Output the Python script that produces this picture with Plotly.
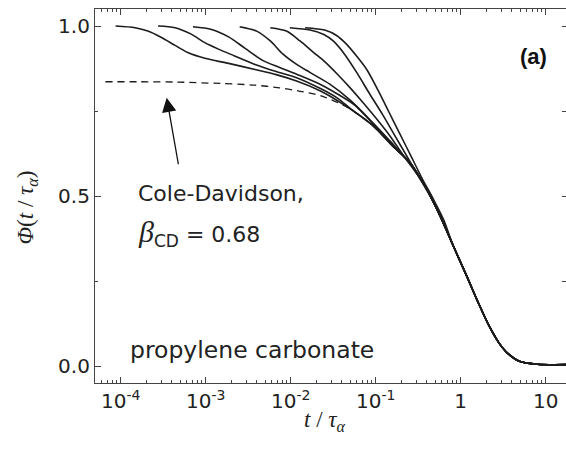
import plotly.graph_objects as go

# ---- data (log10 of t/tau_alpha, Phi) ----
master_logt = [-0.80, -0.60, -0.40, -0.24, -0.09, 0.07, 0.20, 0.33, 0.45, 0.55, 0.70, 0.90, 1.24]
master_phi = [0.647, 0.599, 0.520, 0.440, 0.355, 0.265, 0.190, 0.120, 0.068, 0.038, 0.013, 0.005, 0.004]

a_logt = [-4.06, -3.83, -3.68, -3.52, -3.36, -3.21, -3.01, -2.73, -2.42, -2.17, -1.93, -1.65, -1.54, -1.30, -1.03]
a_phi = [1.000, 0.995, 0.985, 0.966, 0.943, 0.922, 0.905, 0.890, 0.872, 0.857, 0.838, 0.809, 0.794, 0.756, 0.706]

b_logt = [-3.56, -3.36, -3.17, -3.01, -2.85, -2.66, -2.42, -2.17, -1.93, -1.65, -1.45, -1.30, -1.03]
b_phi = [1.000, 0.995, 0.976, 0.951, 0.932, 0.912, 0.887, 0.866, 0.848, 0.816, 0.788, 0.758, 0.707]

c_logt = [-3.15, -2.93, -2.73, -2.54, -2.33, -2.13, -1.93, -1.65, -1.45, -1.25, -1.03]
c_phi = [0.998, 0.990, 0.968, 0.935, 0.899, 0.878, 0.858, 0.828, 0.800, 0.768, 0.712]

d_logt = [-2.60, -2.40, -2.24, -2.09, -1.93, -1.77, -1.54, -1.30, -1.05, -0.85, -0.65]
d_phi = [0.998, 0.985, 0.956, 0.917, 0.887, 0.863, 0.829, 0.782, 0.720, 0.667, 0.610]

e_logt = [-2.24, -2.05, -1.89, -1.73, -1.60, -1.45, -1.30, -1.15, -0.99, -0.83, -0.66]
e_phi = [0.995, 0.985, 0.956, 0.922, 0.895, 0.858, 0.818, 0.775, 0.727, 0.676, 0.615]

f_logt = [-2.01, -1.77, -1.61, -1.50, -1.36, -1.22, -1.07, -0.92, -0.78, -0.64, -0.50, -0.36, -0.24]
f_phi = [0.995, 0.988, 0.975, 0.956, 0.915, 0.862, 0.800, 0.740, 0.680, 0.620, 0.560, 0.500, 0.445]

g_logt = [-1.83, -1.60, -1.46, -1.35, -1.22, -1.10, -0.97, -0.85, -0.72, -0.58, -0.45, -0.32, -0.20]
g_phi = [0.995, 0.988, 0.972, 0.948, 0.910, 0.870, 0.810, 0.750, 0.685, 0.615, 0.550, 0.490, 0.430]

cd_logt = [-4.18, -3.77, -3.33, -2.83, -2.42, -2.13, -1.89, -1.65, -1.34, -1.03]
cd_phi = [0.836, 0.836, 0.835, 0.831, 0.826, 0.818, 0.808, 0.795, 0.762, 0.706]

x_tickvals = [1e-4, 1e-3, 1e-2, 1e-1, 1, 10]
x_ticktext = ["10<sup>-4</sup>", "10<sup>-3</sup>", "10<sup>-2</sup>", "10<sup>-1</sup>", "1", "10"]
y_tickvals = [0.0, 0.5, 1.0]
y_ticktext = ["0.0", "0.5", "1.0"]


def join_master(logt, phi):
    last = logt[-1]
    lt = list(logt) + [v for v in master_logt if v > last + 0.05]
    ph = list(phi) + [p for v, p in zip(master_logt, master_phi) if v > last + 0.05]
    return [10 ** v for v in lt], ph


fig = go.Figure()
LINE = "#1c1c1c"
for lt, ph in [(a_logt, a_phi), (b_logt, b_phi), (c_logt, c_phi), (d_logt, d_phi),
               (e_logt, e_phi), (f_logt, f_phi), (g_logt, g_phi)]:
    xs, ys = join_master(lt, ph)
    fig.add_trace(go.Scatter(x=xs, y=ys, mode="lines",
                             line=dict(color=LINE, width=1.6, shape="spline", smoothing=0.8),
                             showlegend=False, hoverinfo="skip"))

xs, ys = join_master(cd_logt, cd_phi)
fig.add_trace(go.Scatter(x=xs, y=ys, mode="lines", yaxis="y2",
                         line=dict(color=LINE, width=1.3, dash="7px,5px", shape="spline", smoothing=0.8),
                         showlegend=False, hoverinfo="skip"))

SANS = "DejaVu Sans, Liberation Sans, Arial, sans-serif"
SERIF = "Liberation Serif, Times New Roman, serif"
TICKFONT = dict(family=SANS, size=20, color="#222")
AXCOL = "#444"

fig.update_layout(
    width=566, height=457,
    margin=dict(l=95, r=0, t=9, b=74, autoexpand=False),
    paper_bgcolor="white", plot_bgcolor="white",
    xaxis=dict(type="log", range=[-4.302, 1.239], tickmode="array",
               tickvals=x_tickvals, ticktext=x_ticktext, automargin=False,
               ticks="inside", ticklen=6, tickwidth=1, tickcolor=AXCOL,
               showline=True, linecolor=AXCOL, linewidth=1.2, mirror="ticks",
               showgrid=False, zeroline=False, tickfont=TICKFONT,
               minor=dict(ticks="inside", ticklen=3, tickcolor=AXCOL, dtick="D1", showgrid=False)),
    yaxis=dict(range=[-0.05, 1.05], tickmode="array", automargin=False,
               tickvals=y_tickvals, ticktext=y_ticktext,
               ticks="inside", ticklen=6, tickwidth=1, tickcolor=AXCOL,
               showline=True, linecolor=AXCOL, linewidth=1.2, mirror=False,
               showgrid=False, zeroline=False, tickfont=TICKFONT,
               minor=dict(ticks="inside", ticklen=3, tickcolor=AXCOL, dtick=0.25, showgrid=False)),
    yaxis2=dict(range=[-0.05, 1.05], overlaying="y", side="right", automargin=False,
                tickmode="array", tickvals=[0.25, 0.5, 0.75, 1.0],
                ticks="inside", ticklen=4, tickcolor=AXCOL, showticklabels=False,
                showline=False, showgrid=False, zeroline=False),
)

ANNFONT = dict(family=SANS, size=22, color="#222")
ann = dict(xref="paper", yref="paper", showarrow=False, yanchor="middle")
# axis titles
fig.add_annotation(**ann, x=0.488, y=-0.102, xanchor="center", text="<i>t</i> / <i>τ<sub>α</sub></i>",
                   font=dict(family=SERIF, size=23, color="#222"))
fig.add_annotation(**ann, x=-0.144, y=0.47, xanchor="center", textangle=-90,
                   text="<i>Φ</i>(<i>t</i> / <i>τ<sub>α</sub></i>)",
                   font=dict(family=SERIF, size=23, color="#222"))
# labels
fig.add_annotation(**ann, x=0.932, y=0.872, xanchor="center", text="<b>(a)</b>",
                   font=dict(family="Liberation Sans, Arial, sans-serif", size=22, color="#111"))
fig.add_annotation(**ann, x=0.087, y=0.508, xanchor="left", text="Cole-Davidson,", font=ANNFONT)
fig.add_annotation(**ann, x=0.087, y=0.40, xanchor="left",
                   text="<span style='font-family:Liberation Serif, serif;font-size:30px'><i>β</i></span>"
                        "<sub><span style='font-size:17px'>CD</span></sub> = 0.68",
                   font=ANNFONT)
fig.add_annotation(**ann, x=0.07, y=0.088, xanchor="left", text="propylene carbonate",
                   font=dict(family=SANS, size=23.5, color="#222"))
fig.add_annotation(x=-3.459, y=0.789, xref="x", yref="y", text="", showarrow=True,
                   ax=12, ay=68, arrowhead=2, arrowsize=2.2, arrowwidth=1.3, arrowcolor="#111")

fig.write_html("out.html", config={"displayModeBar": False},
               post_script="document.body.style.margin='0px';")
